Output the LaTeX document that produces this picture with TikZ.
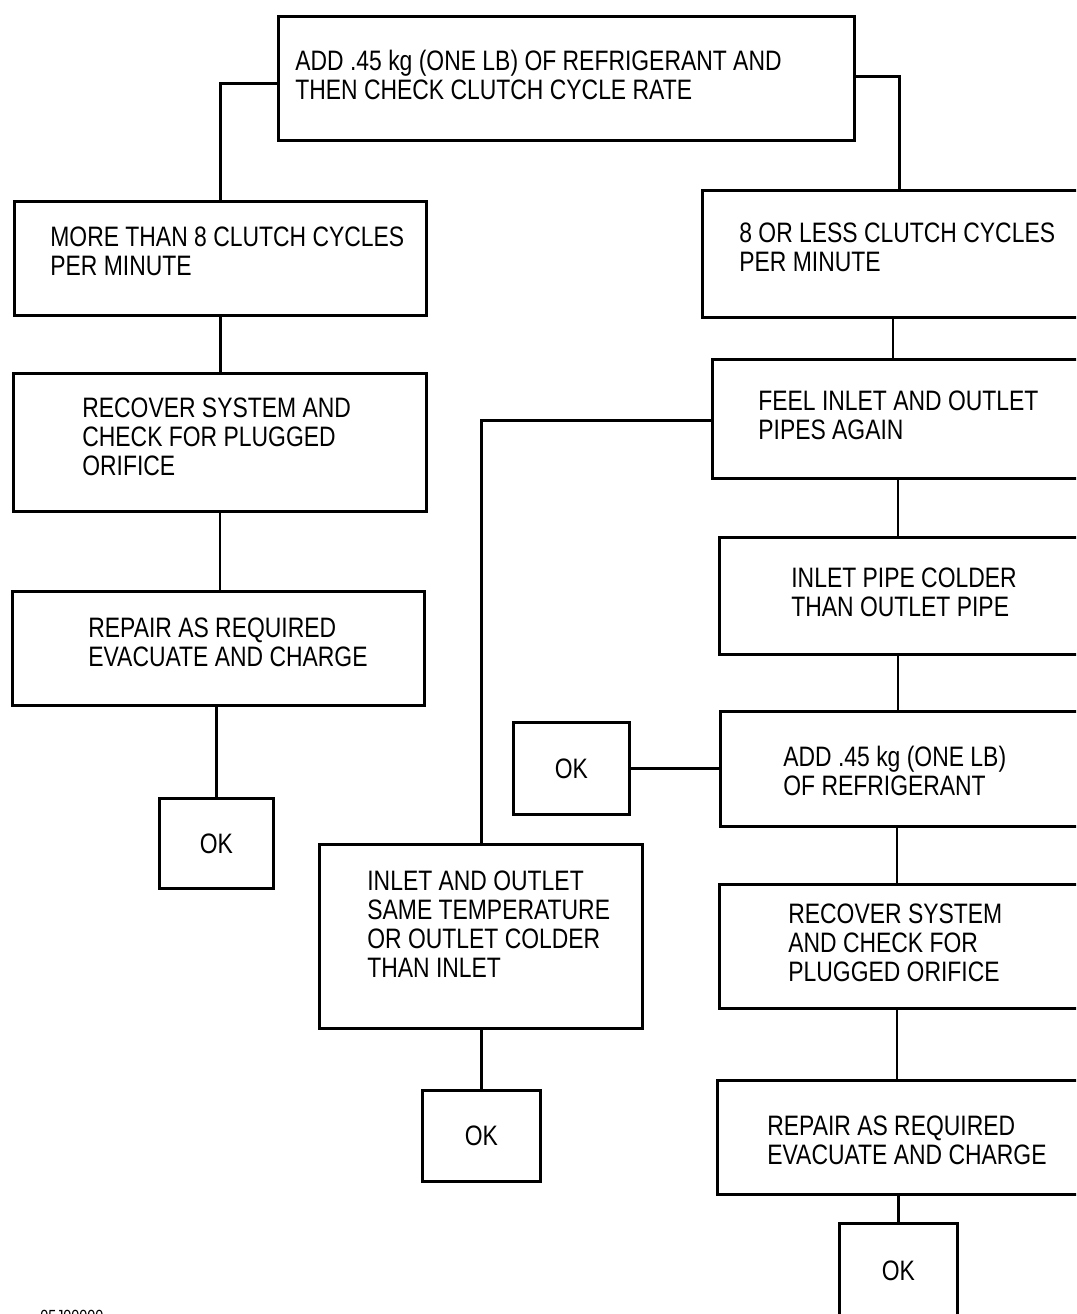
\documentclass[tikz,border=0pt]{standalone}
\usepackage{fontspec}
\setmainfont{Liberation Sans}[FakeStretch=0.815]
\usetikzlibrary{calc}
\tikzset{
  box/.style n args={2}{draw, line width=1.6pt, minimum width=#1*0.02cm, minimum height=#2*0.02cm, anchor=north west, inner sep=0pt},
  okbox/.style n args={2}{box={#1}{#2}, font=\fontsize{16pt}{16.5pt}\selectfont},
  txt/.style={anchor=west, align=left, inner sep=0pt, font=\fontsize{16pt}{16.5pt}\selectfont},
  wire/.style={line width=1.6pt}
}
\begin{document}
\begin{tikzpicture}[x=0.02cm, y=-0.02cm]
\useasboundingbox (0,0) rectangle (1076,1314);
\clip (0,0) rectangle (1076,1314);
% boxes
\node[box={576}{124}] (top) at (277,15) {};
\node[box={412}{114}] (more) at (13,200) {};
\node[box={394}{127}] (less) at (701,189) {};
\node[box={413}{138}] (rec1) at (12,372) {};
\node[box={412}{114}] (rep1) at (11,590) {};
\node[okbox={114}{90}] (ok1) at (158,797) {OK};
\node[box={400}{119}] (feel) at (711,358) {};
\node[box={400}{117}] (colder) at (718,536) {};
\node[okbox={116}{92}] (okm) at (512,721) {OK};
\node[box={400}{115}] (add) at (719,710) {};
\node[box={323}{184}] (same) at (318,843) {};
\node[okbox={118}{91}] (okb) at (421,1089) {OK};
\node[box={400}{124}] (rec2) at (718,883) {};
\node[box={400}{114}] (rep2) at (716,1079) {};
\node[okbox={118}{95}] (ok3) at (838,1222) {OK};
% texts
\node[txt] (t1) at (295,75) {ADD .45 kg (ONE LB) OF REFRIGERANT AND\\THEN CHECK CLUTCH CYCLE RATE};
\node[txt] (t2) at (50,251.5) {MORE THAN 8 CLUTCH CYCLES\\PER MINUTE};
\node[txt] (t3) at (739,247.5) {8 OR LESS CLUTCH CYCLES\\PER MINUTE};
\node[txt] (t4) at (82,437) {RECOVER SYSTEM AND\\CHECK FOR PLUGGED\\ORIFICE};
\node[txt] (t5) at (88,642.5) {REPAIR AS REQUIRED\\EVACUATE AND CHARGE};
\node[txt] (t7) at (758,415.5) {FEEL INLET AND OUTLET\\PIPES AGAIN};
\node[txt] (t8) at (791,592.5) {INLET PIPE COLDER\\THAN OUTLET PIPE};
\node[txt] (t10) at (783,771) {ADD .45 kg (ONE LB)\\OF REFRIGERANT};
\node[txt] (t11) at (367,924) {INLET AND OUTLET\\SAME TEMPERATURE\\OR OUTLET COLDER\\THAN INLET};
\node[txt] (t13) at (788,943) {RECOVER SYSTEM\\AND CHECK FOR\\PLUGGED ORIFICE};
\node[txt] (t14) at (767,1140.5) {REPAIR AS REQUIRED\\EVACUATE AND CHARGE};
\node[anchor=base west, inner sep=0pt, font=\fontsize{10pt}{10pt}\selectfont] (code) at (40,1322) {05J00000};
% connectors
\draw[wire] ([yshift=-0.1cm]top.west) -| (more.north);
\draw[wire] ([yshift=0.04cm]top.east) -| (less.north);
\draw[wire] (more.south) -- (more.south |- rec1.north);
\draw[wire] (rec1.south) -- (rec1.south |- rep1.north);
\draw[wire] (ok1.north |- rep1.south) -- (ok1.north);
\draw[wire] ([xshift=192*0.02cm]less.south west) -- ([xshift=182*0.02cm]feel.north west);
\draw[wire] ([yshift=-0.03cm]feel.west) -| (okb.north |- same.north);
\draw[wire] ([xshift=187*0.02cm]feel.south west) -- ([xshift=180*0.02cm]colder.north west);
\draw[wire] ([xshift=180*0.02cm]colder.south west) -- ([xshift=179*0.02cm]add.north west);
\draw[wire] (okm.east) -- (okm.east -| add.west);
\draw[wire] ([xshift=178*0.02cm]add.south west) -- ([xshift=179*0.02cm]rec2.north west);
\draw[wire] ([xshift=179*0.02cm]rec2.south west) -- ([xshift=181*0.02cm]rep2.north west);
\draw[wire] (ok3.north |- rep2.south) -- (ok3.north);
\draw[wire] (okb.north |- same.south) -- (okb.north);
\end{tikzpicture}
\end{document}
